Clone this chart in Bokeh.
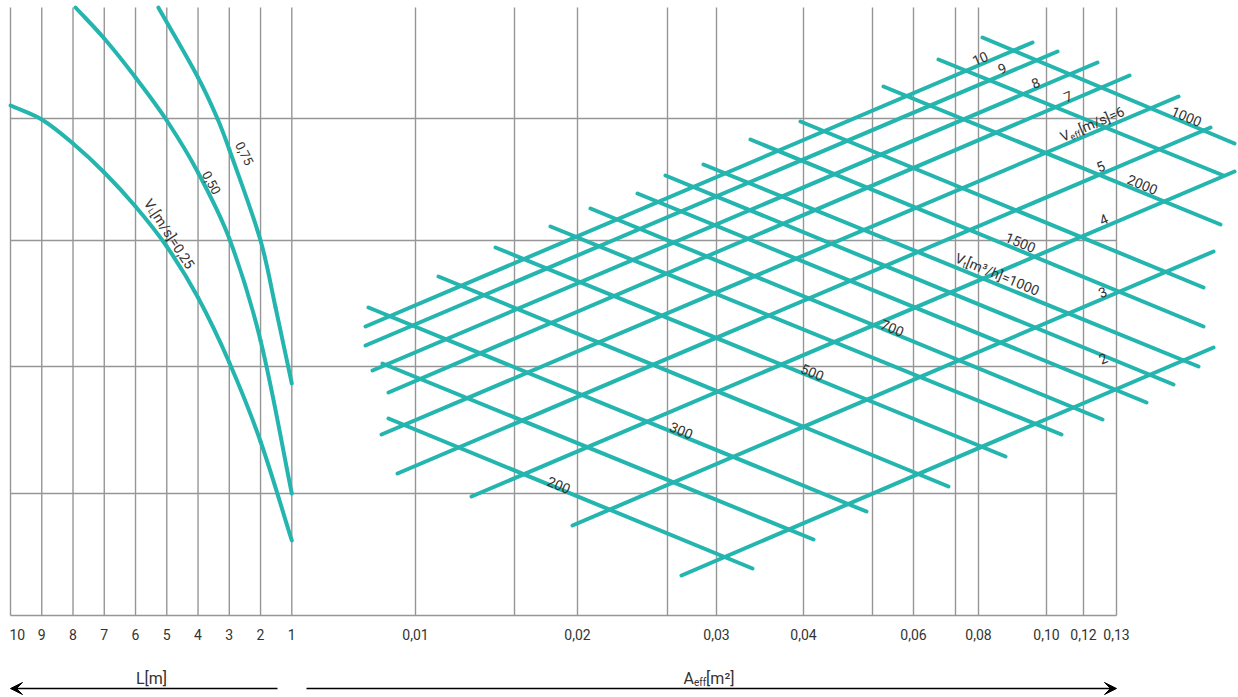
import math
from bokeh.plotting import figure
from bokeh.models import Range1d, Arrow, VeeHead
from bokeh.core.properties import value
from bokeh.embed import file_html
from bokeh.resources import INLINE

# ---------------- data ----------------
# left scale: pipe length L [m]
L_ticks = [10, 9, 8, 7, 6, 5, 4, 3, 2, 1]
# right scale: effective area A_eff [m2] (nomogram calibration: label -> chart position)
A_tick_labels = ["0,01", "0,02", "0,03", "0,04", "0,06", "0,08", "0,10", "0,12", "0,13"]
A_tick_pos = [415, 577, 716, 803, 913, 978, 1046, 1083, 1116]
A_minor_pos = [514, 667, 872, 955]
# horizontal reference lines (chart height units, measured from top)
y_grid = [118, 240, 366, 493, 615]

# V_L curves: L [m] -> chart height
vl025_L = [10, 9, 8, 7, 6, 5, 4, 3, 2, 1]
vl025_y = [105, 119, 143, 172, 206, 246, 297, 362, 441, 540]
vl050_L = [7.92, 7, 6, 5, 4, 3, 2, 1]
vl050_y = [7, 38, 77, 120, 172, 238, 340, 493]
vl075_L = [5.27, 4, 3.38, 3, 2, 1.52, 1]
vl075_y = [7, 77, 118, 149, 240, 307, 383]

# V_eff [m/s] lines (rising)
veff_labels = ["10", "9", "8", "7", "6", "5", "4", "3", "2"]
veff_x0 = [365, 365, 372, 388, 381, 397, 471, 572, 681]
veff_y0 = [326, 345, 370, 392, 434, 473, 496, 525, 575]
veff_x1 = [1032, 1057, 1097, 1129, 1178, 1210, 1234, 1213, 1213]
veff_y1 = [42, 51, 62, 75, 96, 127, 171, 251, 347]

# V_t [m3/h] lines (falling); "" = unlabeled line
vt_labels = ["200", "", "300", "", "500", "", "700", "", "", "1000", "1500", "", "2000", "", "1000"]
vt_x0 = [388, 382, 368, 438, 495, 550, 590, 637, 665, 703, 750, 800, 883, 938, 982]
vt_y0 = [418, 363, 307, 276, 247, 226, 208, 193, 175, 164, 139, 121, 86, 59, 37]
vt_x1 = [752, 813, 866, 948, 1005, 1061, 1102, 1146, 1173, 1198, 1203, 1203, 1220, 1223, 1234]
vt_y1 = [568, 539, 511, 486, 456, 434, 419, 402, 384, 366, 326, 287, 224, 175, 143]

# ---------------- styling ----------------
TEAL = "#24b5af"
GRID = "#969696"
TXT = "#333333"
FONT = "Roboto"

W, H = 1238, 697
X0, X1 = 0, W
Y0, Y1 = 0, H

p = figure(width=W, height=H, x_range=Range1d(X0, X1), y_range=Range1d(Y1, Y0),
           x_axis_type=None, y_axis_type=None, toolbar_location=None,
           output_backend="svg", min_border=0, outline_line_color=None,
           background_fill_color="white", border_fill_color="white")

# L scale as an extra x range (linear, 10 at x=10, 1 at x=291.3)
xL10, xL1 = 10.0, 291.3
pxL = (xL1 - xL10) / 9.0
p.extra_x_ranges = {"L": Range1d(start=10 + (xL10 - X0) / pxL, end=10 - (X1 - xL10) / pxL)}

grid_top = 7
x_left = xL10
x_right = A_tick_pos[-1]

# grid
p.segment(x0=L_ticks, y0=[grid_top] * len(L_ticks), x1=L_ticks, y1=[y_grid[-1]] * len(L_ticks),
          x_range_name="L", line_color=GRID, line_width=1.4)
allA = A_tick_pos + A_minor_pos
p.segment(x0=allA, y0=[grid_top] * len(allA), x1=allA, y1=[y_grid[-1]] * len(allA),
          line_color=GRID, line_width=1.4)
p.segment(x0=[x_left] * len(y_grid), y0=y_grid, x1=[x_right] * len(y_grid), y1=y_grid,
          line_color=GRID, line_width=1.4)


# V_L curves drawn as smooth cubic Bezier pieces through the read points
def smooth_curve(Ls, ys):
    xs = [xL10 + (10 - L) * pxL for L in Ls]
    n = len(xs)
    t = [0.0]
    for i in range(1, n):
        t.append(t[-1] + math.hypot(xs[i] - xs[i - 1], ys[i] - ys[i - 1]))
    tang = []
    for i in range(n):
        a, b = max(i - 1, 0), min(i + 1, n - 1)
        dt = t[b] - t[a]
        tang.append(((xs[b] - xs[a]) / dt, (ys[b] - ys[a]) / dt))
    X0s, Y0s, X1s, Y1s, C0x, C0y, C1x, C1y = ([] for _ in range(8))
    toL = lambda x: 10 - (x - xL10) / pxL
    for i in range(n - 1):
        h = (t[i + 1] - t[i]) / 3.0
        X0s.append(Ls[i]); Y0s.append(ys[i]); X1s.append(Ls[i + 1]); Y1s.append(ys[i + 1])
        C0x.append(toL(xs[i] + tang[i][0] * h)); C0y.append(ys[i] + tang[i][1] * h)
        C1x.append(toL(xs[i + 1] - tang[i + 1][0] * h)); C1y.append(ys[i + 1] - tang[i + 1][1] * h)
    p.bezier(x0=X0s, y0=Y0s, x1=X1s, y1=Y1s, cx0=C0x, cy0=C0y, cx1=C1x, cy1=C1y,
             x_range_name="L", line_color=TEAL, line_width=4, line_cap="round")


for Ls, ys in [(vl025_L, vl025_y), (vl050_L, vl050_y), (vl075_L, vl075_y)]:
    smooth_curve(Ls, ys)

# nomogram mesh
p.segment(x0=veff_x0, y0=veff_y0, x1=veff_x1, y1=veff_y1, line_color=TEAL, line_width=4, line_cap="round")
p.segment(x0=vt_x0, y0=vt_y0, x1=vt_x1, y1=vt_y1, line_color=TEAL, line_width=4, line_cap="round")

# ---------------- text helpers ----------------
CW = {'V': .652, 'L': .538, 'A': .652, 'e': .528, 'f': .347, 't': .327, '[': .266, ']': .266,
      'm': .876, '/': .412, 's': .516, 'h': .551, '=': .549, ',': .196, ' ': .248,
      '³': .37, '²': .37}


def tw(s, size):
    return sum(CW.get(c, .562) for c in s) * size


def rich_label(cx, cy, parts, angle_deg=0.0, color=TXT):
    th = math.radians(angle_deg)
    ux, uy = math.cos(th), -math.sin(th)
    nx, ny = math.sin(th), math.cos(th)
    main = max(s for _, s, _ in parts)
    total = sum(tw(t, s) for t, s, _ in parts)
    bx = cx - ux * total / 2 + nx * 0.36 * main
    by = cy - uy * total / 2 + ny * 0.36 * main
    adv = 0.0
    for t, s, d in parts:
        x = bx + ux * adv + nx * d
        y = by + uy * adv + ny * d
        p.text(x=[x], y=[y], text=[t], angle=th, text_font=value(FONT),
               text_font_size=f"{s}px", text_align="left", text_baseline="alphabetic",
               text_color=color)
        adv += tw(t, s)


# tick labels
p.text(x=[L_ticks[0]], y=[634], text=[str(L_ticks[0])], x_range_name="L", x_offset=-1,
       text_font=value(FONT), text_font_size="14px", text_align="left",
       text_baseline="middle", text_color=TXT)
p.text(x=L_ticks[1:], y=[634] * (len(L_ticks) - 1), text=[str(v) for v in L_ticks[1:]],
       x_range_name="L", text_font=value(FONT), text_font_size="14px", text_align="center",
       text_baseline="middle", text_color=TXT)
p.text(x=A_tick_pos, y=[634] * len(A_tick_pos), text=A_tick_labels,
       text_font=value(FONT), text_font_size="14px", text_align="center",
       text_baseline="middle", text_color=TXT)

# axis titles
rich_label(151, 672, [("L[m]", 16, 0)])
rich_label(710.5, 672, [("A", 16, 0), ("eff", 10, 4), (" [m²]", 16, 0)])

# arrows
p.add_layout(Arrow(end=VeeHead(size=12, fill_color="black", line_color="black"),
                   x_start=277, y_start=688, x_end=10, y_end=688,
                   line_color="black", line_width=1.6))
p.add_layout(Arrow(end=VeeHead(size=12, fill_color="black", line_color="black"),
                   x_start=306, y_start=688, x_end=1116, y_end=688,
                   line_color="black", line_width=1.6))

# curve labels
rich_label(174, 232, [("V", 14, 0), ("L", 8, 3), (" [m/s]=0,25", 14, 0)], -57)
rich_label(215, 180, [("0,50", 13, 0)], -61)
rich_label(248, 151, [("0,75", 13, 0)], -63)

# V_eff labels (rising lines)
UA = 23
veff_pos = [(977.5, 53), (999.5, 63), (1033, 77.5), (1065.5, 91), (1089.7, 118.8),
            (1098, 161), (1101, 214), (1100, 286.7), (1100.5, 353)]
for lab, (cx, cy) in zip(veff_labels, veff_pos):
    if lab == "6":
        rich_label(cx, cy, [("V", 14, 0), ("eff", 9, 4), ("[m/s]=6", 14, 0)], UA)
    else:
        rich_label(cx, cy, [(lab, 14, 0)], UA)

# V_t labels (falling lines)
DA = -22.5
vt_pos = {0: (560.5, 479.5), 2: (683, 425), 4: (814, 366.7), 6: (894, 322.5),
          9: (998.7, 269), 10: (1022, 237), 12: (1144, 179), 14: (1188, 111)}
for i, lab in enumerate(vt_labels):
    if not lab:
        continue
    cx, cy = vt_pos[i]
    if i == 9:
        rich_label(cx, cy, [("V", 14, 0), ("t", 9, 4), ("[m³/h]=" + lab, 14, 0)], DA)
    else:
        rich_label(cx, cy, [(lab, 14, 0)], DA)

open("out.html", "w").write(file_html(p, INLINE))
